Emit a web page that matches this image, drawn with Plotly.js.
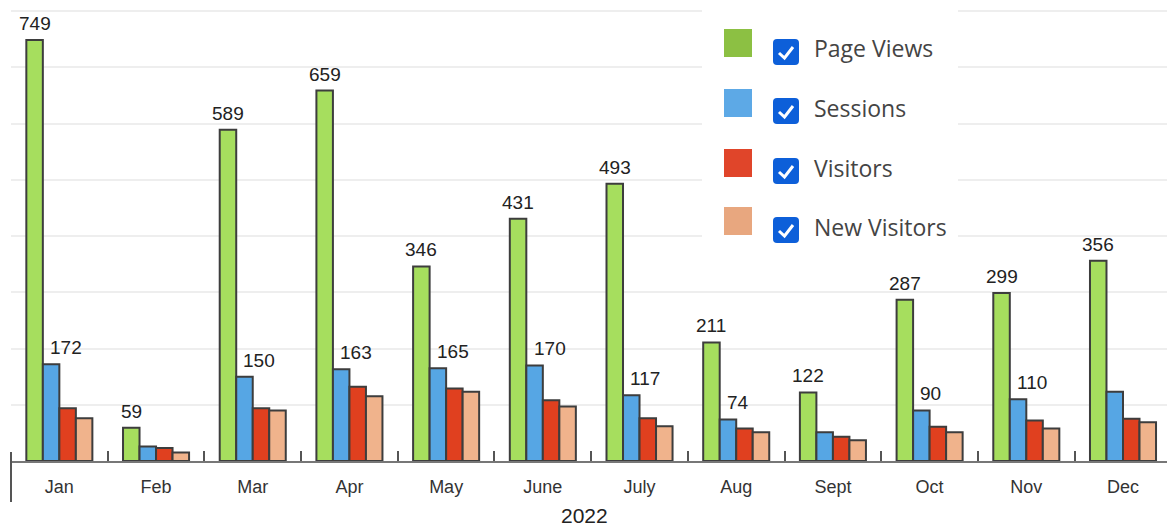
<!DOCTYPE html>
<html>
<head>
<meta charset="utf-8">
<script src="https://cdn.plot.ly/plotly-3.0.1.min.js"></script>
<style>
  html, body { margin: 0; padding: 0; background: #ffffff; }
  #chart { width: 1167px; height: 528px; }
</style>
</head>
<body>
<div id="chart"></div>
<script>
// ---- data ----
const months = ['Jan', 'Feb', 'Mar', 'Apr', 'May', 'June', 'July', 'Aug', 'Sept', 'Oct', 'Nov', 'Dec'];
const pageViews = [749, 59, 589, 659, 346, 431, 493, 211, 122, 287, 299, 356];
const sessions = [172, 26, 150, 163, 165, 170, 117, 74, 51, 90, 110, 123];
const visitors = [94, 23, 94, 132, 129, 108, 76, 58, 43, 61, 72, 75];
const newVisitors = [76, 15, 90, 115, 123, 97, 62, 51, 37, 51, 58, 69];
const sessionLabelShown = [true, false, true, true, true, true, true, true, false, true, true, false];
const seriesNames = ['Page Views', 'Sessions', 'Visitors', 'New Visitors'];
const axisTitle = '2022';

// ---- style ----
const barColors = ['#a6de5e', '#56a6e4', '#e0401f', '#f0b38c'];
const legendColors = ['#8cc043', '#5da9e6', '#e0452a', '#e8a77f'];
const W = 1167, H = 528;
const M = { l: 11, r: 0, t: 0, b: 67 };
const PW = W - M.l - M.r, PH = H - M.t - M.b;
const px = x => (x - M.l) / PW;
const py = y => (H - M.b - y) / PH;
const xRange = [-0.5, 11.455];
const bargap = 0.317;
const catW = PW / (xRange[1] - xRange[0]);
const barW = catW * (1 - bargap) / 4;

const labelFont = { family: 'Liberation Sans, Arial, sans-serif', size: 19, color: '#222222' };
const outline = { color: '#3d3d3d', width: 2 };

function barTrace(name, values, color) {
  return {
    type: 'bar', name: name, x: months, y: values,
    marker: { color: color, line: outline },
    hoverinfo: 'x+y+name', showlegend: false
  };
}

const data = [
  barTrace(seriesNames[0], pageViews, barColors[0]),
  barTrace(seriesNames[1], sessions, barColors[1]),
  barTrace(seriesNames[2], visitors, barColors[2]),
  barTrace(seriesNames[3], newVisitors, barColors[3])
];

const shapes = [];
const annotations = [];

// ---- value labels (positioned through the axes) ----
pageViews.forEach((v, i) => {
  annotations.push({ xref: 'x', yref: 'y', x: months[i], y: v, xshift: -1.5 * barW, yshift: 4,
    xanchor: 'center', yanchor: 'bottom', text: String(v), showarrow: false, font: labelFont });
});
sessions.forEach((v, i) => {
  if (!sessionLabelShown[i]) return;
  annotations.push({ xref: 'x', yref: 'y', x: months[i], y: v, xshift: -0.5 * barW - 3, yshift: 4,
    xanchor: 'left', yanchor: 'bottom', text: String(v), showarrow: false, font: labelFont });
});

// ---- custom legend (colour square + checked checkbox + label) ----
shapes.push({ type: 'rect', xref: 'paper', yref: 'paper', x0: px(702), x1: px(958), y0: py(246), y1: py(-2),
  fillcolor: '#ffffff', line: { width: 0 }, layer: 'above' });

const sqCenters = [43, 103, 163, 221];
const cbCenters = [52, 111, 171, 230];
const txtCenters = [48, 108, 168, 227];
function roundedRectPath(x0, y0, x1, y1, r) {
  const X = v => px(v), Y = v => py(v);
  return 'M' + X(x0 + r) + ',' + Y(y0) +
    ' L' + X(x1 - r) + ',' + Y(y0) + ' Q' + X(x1) + ',' + Y(y0) + ' ' + X(x1) + ',' + Y(y0 + r) +
    ' L' + X(x1) + ',' + Y(y1 - r) + ' Q' + X(x1) + ',' + Y(y1) + ' ' + X(x1 - r) + ',' + Y(y1) +
    ' L' + X(x0 + r) + ',' + Y(y1) + ' Q' + X(x0) + ',' + Y(y1) + ' ' + X(x0) + ',' + Y(y1 - r) +
    ' L' + X(x0) + ',' + Y(y0 + r) + ' Q' + X(x0) + ',' + Y(y0) + ' ' + X(x0 + r) + ',' + Y(y0) + ' Z';
}
seriesNames.forEach((name, i) => {
  const sc = sqCenters[i];
  shapes.push({ type: 'rect', xref: 'paper', yref: 'paper', x0: px(724), x1: px(752), y0: py(sc + 14), y1: py(sc - 14),
    fillcolor: legendColors[i], line: { width: 0 }, layer: 'above' });
  const cc = cbCenters[i];
  shapes.push({ type: 'path', xref: 'paper', yref: 'paper', path: roundedRectPath(773, cc - 13, 799, cc + 13, 4),
    fillcolor: '#0d5fd9', line: { width: 0 }, layer: 'above' });
  shapes.push({ type: 'path', xref: 'paper', yref: 'paper',
    path: 'M' + px(779) + ',' + py(cc + 1) + ' L' + px(784.5) + ',' + py(cc + 6) + ' L' + px(793) + ',' + py(cc - 5),
    line: { color: '#ffffff', width: 3 }, layer: 'above' });
  annotations.push({ xref: 'paper', yref: 'paper', x: px(812), y: py(txtCenters[i]), xanchor: 'left', yanchor: 'middle',
    text: name, showarrow: false, font: { family: 'Open Sans, sans-serif', size: 23, color: '#444444' } });
});

// axis title (kept fully inside the picture)
annotations.push({ xref: 'paper', yref: 'paper', x: px(584), y: py(527.5), xanchor: 'center', yanchor: 'bottom',
  borderpad: 0, text: axisTitle, showarrow: false,
  font: { family: 'Liberation Sans, Arial, sans-serif', size: 21, color: '#222222' } });

// long left divider line below axis
shapes.push({ type: 'line', xref: 'paper', yref: 'paper', x0: 0, x1: 0, y0: py(452), y1: py(502),
  line: { color: '#555555', width: 2 }, layer: 'above' });

const layout = {
  width: W, height: H,
  margin: M,
  paper_bgcolor: '#ffffff', plot_bgcolor: '#ffffff',
  barmode: 'group', bargap: bargap, bargroupgap: 0,
  showlegend: false,
  font: { family: 'Liberation Sans, Arial, sans-serif', color: '#333333' },
  xaxis: {
    type: 'category', range: xRange, fixedrange: true,
    showline: true, linecolor: '#777777', linewidth: 2,
    ticks: 'inside', tickson: 'boundaries', ticklen: 10, tickwidth: 2, tickcolor: '#555555',
    tickfont: { family: 'Liberation Sans, Arial, sans-serif', size: 18, color: '#333333' },
    ticklabelstandoff: 8,
    showgrid: false, zeroline: false,
    automargin: false
  },
  yaxis: {
    range: [0, 820], dtick: 100, fixedrange: true,
    showgrid: true, gridcolor: '#eeeeee', gridwidth: 2,
    showticklabels: false, zeroline: false, showline: false, ticks: ''
  },
  shapes: shapes,
  annotations: annotations
};

Plotly.newPlot('chart', data, layout, { displayModeBar: false, staticPlot: true });
</script>
</body>
</html>
